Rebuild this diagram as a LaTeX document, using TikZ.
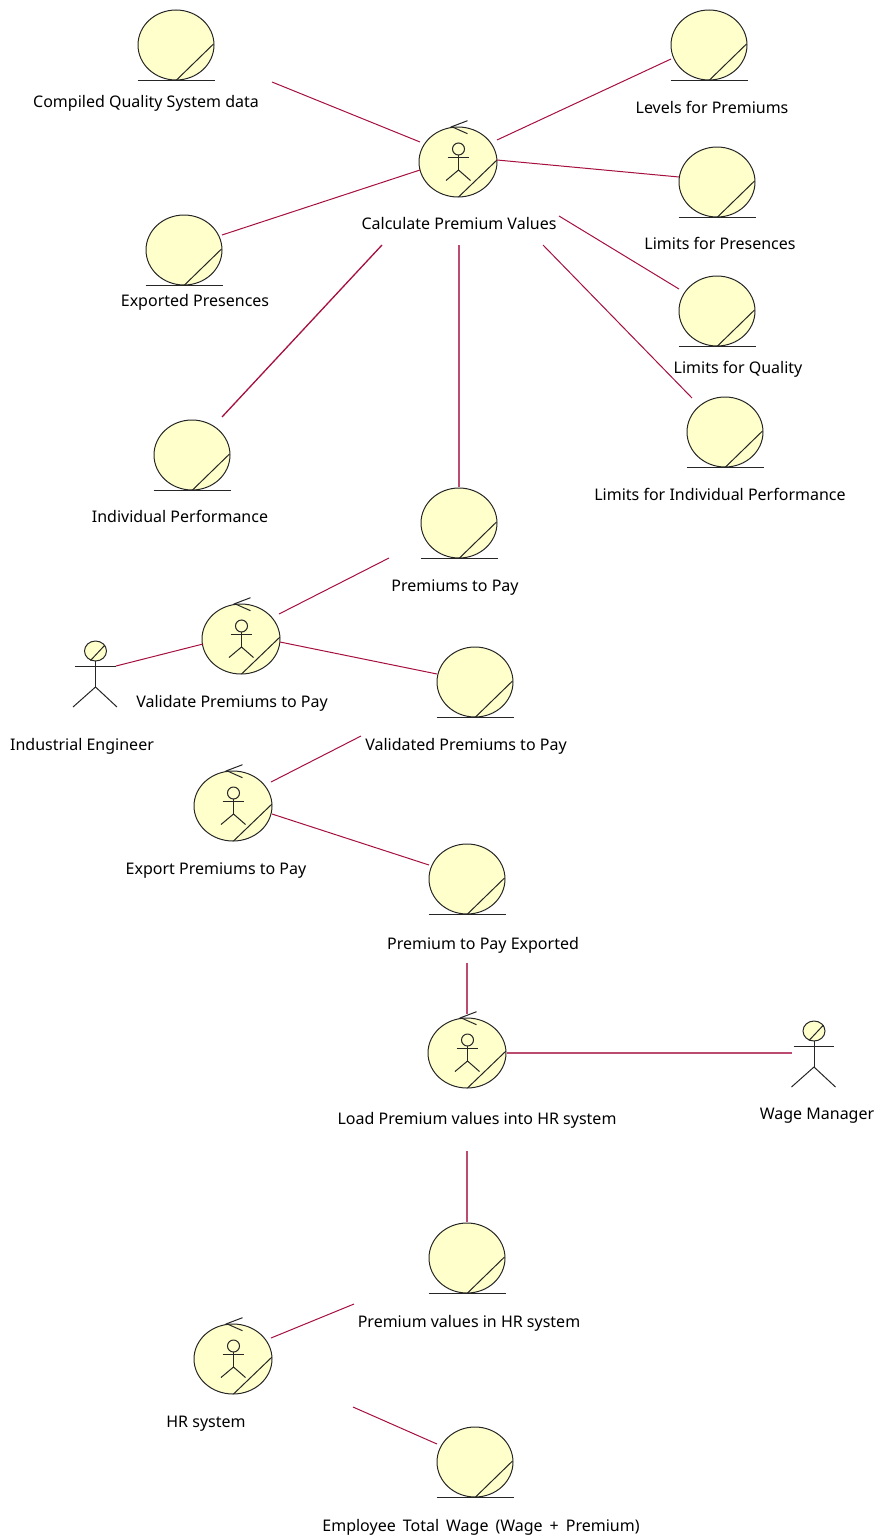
\documentclass[tikz,border=0pt]{standalone}
\usepackage{fontspec}
\setmainfont{Noto Sans}
\usetikzlibrary{shapes.geometric}
\definecolor{bubblefill}{HTML}{FFFFCC}
\definecolor{assoccolor}{HTML}{A5103F}
\tikzset{
bubble/.style={draw=black!85, fill=bubblefill, ellipse, inner sep=0pt, minimum width=76pt, minimum height=70pt, line width=1pt},
ctlbubble/.style={bubble, minimum width=78pt},
headbubble/.style={bubble, minimum width=22pt, minimum height=20pt},
sign/.style={draw=black!85, line width=1pt},
assoc/.style={draw=assoccolor, line width=1pt},
straightassoc/.style={draw=assoccolor!75, line width=1.3pt},
tag/.style={inner sep=0pt, text height=13pt, text depth=2pt, font=\fontsize{16pt}{18pt}\selectfont},
}
% entity: circle on a base line
\newcommand{\entitynode}[3]{
	\node [bubble] (#1) at (#2, #3) {};
	\draw [sign] (#1.south -| #1.west) to (#1.south -| #1.east);
	\draw [sign] (#1.south) to ([shift={(37.5, -1)}]#1.center);
}
% control: circle with arrow and stick figure
\newcommand{\controlnode}[3]{
	\node [ctlbubble] (#1) at (#2, #3) {};
	\draw [sign] ([shift={(0.5, 35)}]#1.center) to ([shift={(39, -2)}]#1.center);
	\draw [sign] ([shift={(9.5, -41.3)}]#1.center) to ([shift={(-6.3, -35.3)}]#1.center) to ([shift={(9.5, -28.3)}]#1.center);
	\draw [sign] ([shift={(0.5, -13)}]#1.center) circle (6);
	\draw [sign] ([shift={(0.5, -7)}]#1.center) to ([shift={(0.5, 8)}]#1.center);
	\draw [sign] ([shift={(-10.5, -4.3)}]#1.center) to ([shift={(11, -4.3)}]#1.center);
	\draw [sign] ([shift={(-12, 18.5)}]#1.center) to ([shift={(0.5, 8)}]#1.center) to ([shift={(12.5, 18.5)}]#1.center);
}
% actor: head with stick body
\newcommand{\actornode}[3]{
	\node [headbubble] (#1) at (#2, #3) {};
	\draw [sign] ([shift={(-5, 9.5)}]#1.center) to ([shift={(9.5, -6)}]#1.center);
	\draw [sign] ([shift={(0, 10)}]#1.center) to ([shift={(0, 36)}]#1.center);
	\draw [sign] ([shift={(-20.5, 15)}]#1.center) to ([shift={(20, 15)}]#1.center);
	\draw [sign] ([shift={(-22.5, 56)}]#1.center) to ([shift={(0, 36)}]#1.center) to ([shift={(21.5, 56)}]#1.center);
}
\begin{document}
\begin{tikzpicture}[x=1pt, y=-1pt]
		\useasboundingbox (0, 0) rectangle (877, 1539);
		\entitynode{compiled}{176}{45}
		\entitynode{levels}{709}{45}
		\entitynode{limpres}{717}{182}
		\entitynode{exported}{184}{250}
		\entitynode{limqual}{717}{311}
		\entitynode{limindiv}{725}{432}
		\entitynode{individual}{192}{455}
		\entitynode{premiums}{459}{523}
		\entitynode{validated}{475}{682}
		\entitynode{premexp}{467}{879}
		\entitynode{hrvalues}{467}{1258}
		\entitynode{totalwage}{475}{1462}
		\controlnode{calc}{458}{162}
		\controlnode{validate}{241}{639}
		\controlnode{export}{233}{806}
		\controlnode{load}{467}{1053}
		\controlnode{hrsys}{233}{1359}
		\actornode{engineer}{95.5}{651}
		\actornode{manager}{814}{1031}
		\node [tag] (compiledtag) at (146, 102) {Compiled Quality System data};
		\node [tag] (levelstag) at (712, 108) {Levels for Premiums};
		\node [tag] (limprestag) at (720, 244) {Limits for Presences};
		\node [tag] (exportedtag) at (195, 301) {Exported Presences};
		\node [tag] (limqualtag) at (738, 368) {Limits for Quality};
		\node [tag] (limindivtag) at (720, 495) {Limits for Individual Performance};
		\node [tag] (individualtag) at (180, 517) {Individual Performance};
		\node [tag] (calctag) at (459, 224) {Calculate Premium Values};
		\node [tag] (premiumstag) at (455, 586) {Premiums to Pay};
		\node [tag] (validatetag) at (232, 702) {Validate Premiums to Pay};
		\node [tag] (engineertag) at (82, 745) {Industrial Engineer};
		\node [tag] (validatedtag) at (466, 745) {Validated Premiums to Pay};
		\node [tag] (exporttag) at (216, 869) {Export Premiums to Pay};
		\node [tag] (premexptag) at (483, 944) {Premium to Pay Exported};
		\node [tag] (loadtag) at (477, 1119) {Load Premium values into HR system};
		\node [tag] (managertag) at (817, 1114) {Wage Manager};
		\node [tag] (hrvaluestag) at (469, 1322) {Premium values in HR system};
		\node [tag] (hrsystag) at (206, 1422) {HR system};
		\node [tag] (totalwagetag) at (481, 1526) {\spaceskip=7pt Employee Total Wage (Wage + Premium)};
		\draw [assoc] ([shift={(96, 37)}]compiled.center) to ([shift={(-38, -20)}]calc.center);
		\draw [assoc] ([shift={(39, -22)}]calc.center) to ([shift={(-38, 14)}]levels.center);
		\draw [assoc] ([shift={(39, -2)}]calc.center) to ([shift={(-38, -5)}]limpres.center);
		\draw [assoc] ([shift={(38, -15)}]exported.center) to ([shift={(-38, 8)}]calc.center);
		\draw [assoc] ([shift={(101, 54)}]calc.center) to ([shift={(-38, -22)}]limqual.center);
		\draw [assoc] ([shift={(85, 83)}]calc.center) to ([shift={(-33, -34)}]limindiv.center);
		\draw [assoc, line width=1.3pt] ([shift={(30, -38)}]individual.center) to ([shift={(-76, 83)}]calc.center);
		\draw [straightassoc] ([shift={(1, 83)}]calc.center) to ([shift={(0, -36)}]premiums.center);
		\draw [assoc] ([shift={(38, -25)}]validate.center) to ([shift={(-70, 35)}]premiums.center);
		\draw [assoc] ([shift={(20.5, 15)}]engineer.center) to ([shift={(-38, 5)}]validate.center);
		\draw [assoc] ([shift={(39, 3)}]validate.center) to ([shift={(-38, -8)}]validated.center);
		\draw [assoc] ([shift={(38, -24)}]export.center) to ([shift={(-114, 54)}]validated.center);
		\draw [assoc] ([shift={(39, 8)}]export.center) to ([shift={(-38, -14)}]premexp.center);
		\draw [straightassoc] ([shift={(0, 84)}]premexp.center) to ([shift={(0, -39)}]load.center);
		\draw [straightassoc] ([shift={(40, 0)}]load.center) to ([shift={(-22, 22)}]manager.center);
		\draw [straightassoc] ([shift={(0, 98)}]load.center) to ([shift={(0, -36)}]hrvalues.center);
		\draw [assoc] ([shift={(-113, 46)}]hrvalues.center) to ([shift={(38, -21)}]hrsys.center);
		\draw [assoc] ([shift={(120, 48)}]hrsys.center) to ([shift={(-38, -18)}]totalwage.center);
	\end{tikzpicture}
\end{document}
